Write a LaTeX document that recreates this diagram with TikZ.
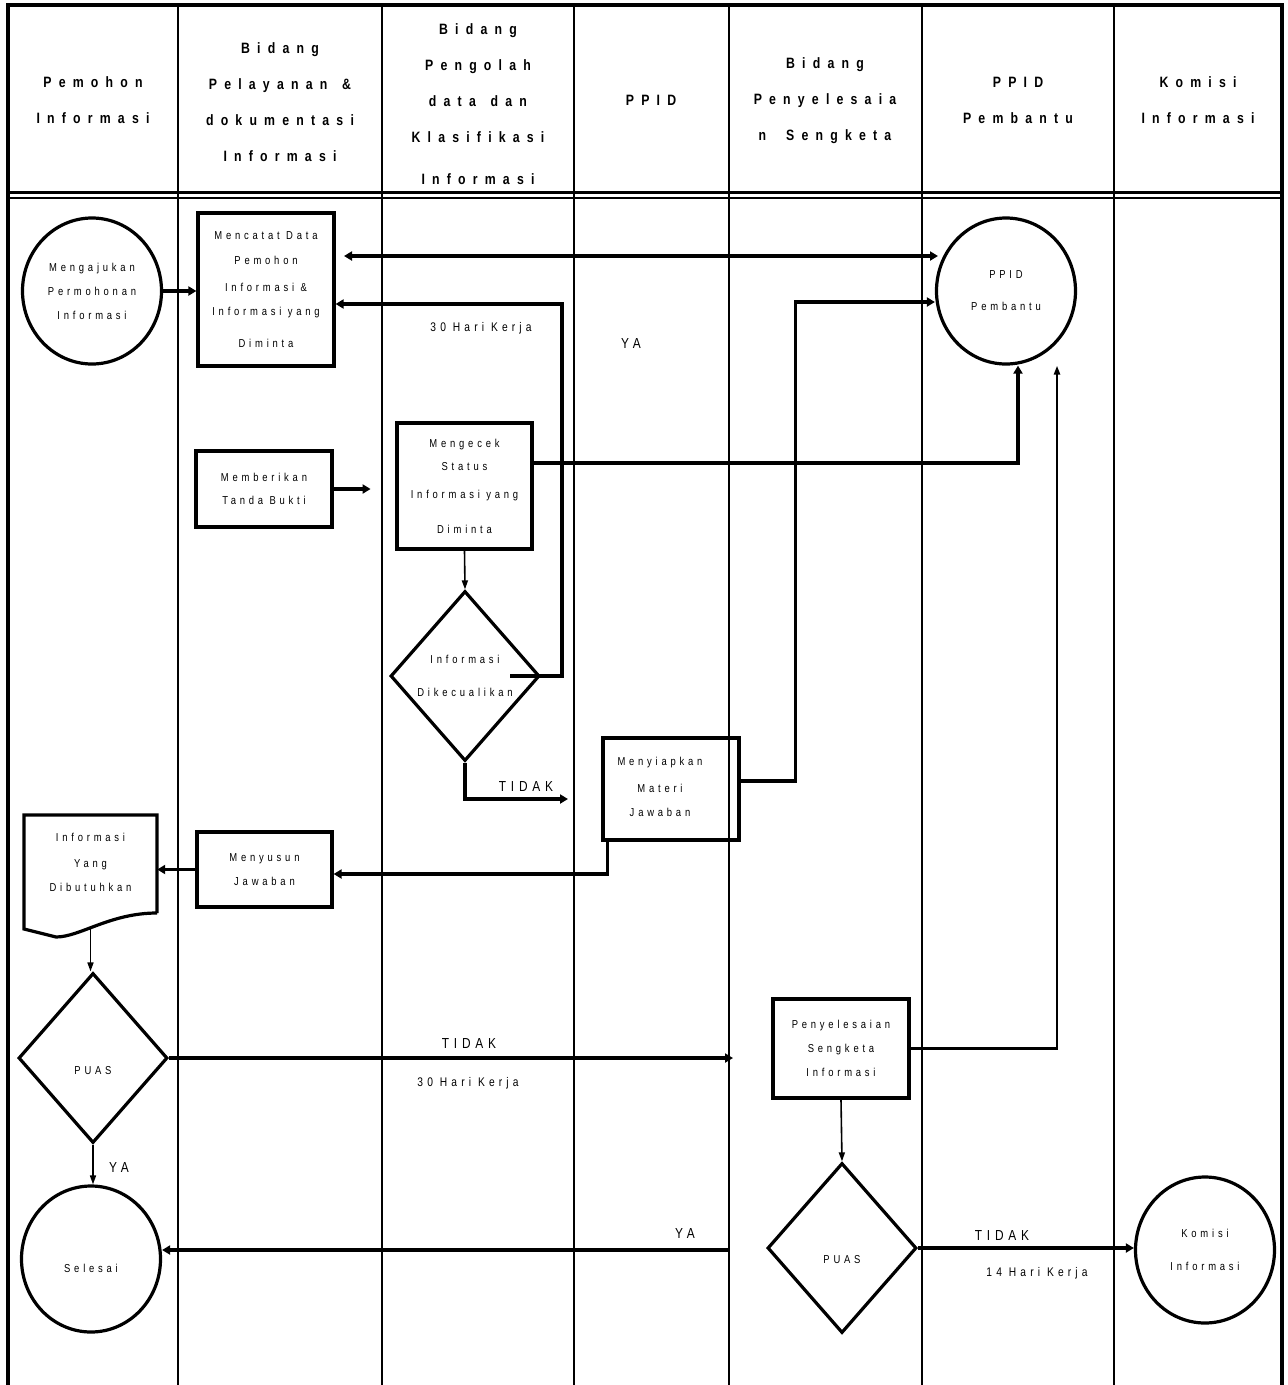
\documentclass[tikz,border=0pt]{standalone}
\usepackage{fontspec}
\setmainfont{Liberation Sans}
\newfontfamily\headfont{Liberation Sans Bold}[FakeStretch=0.82,LetterSpace=48,WordSpace=1.4]
\newfontfamily\bodyfont{Liberation Sans}[FakeStretch=0.82,LetterSpace=33]
\usetikzlibrary{shapes,arrows,positioning,calc,arrows.meta}

\begin{document}
\begin{tikzpicture}[x=1pt,y=-1pt,
    lane/.style={line width=2.2pt},
    headtxt/.style={align=center,inner sep=0pt,font=\headfont\fontsize{15pt}{36pt}\selectfont},
    flowtxt/.style={align=center,inner sep=0pt,font=\bodyfont\fontsize{11.5pt}{24pt}\selectfont},
    procbox/.style={flowtxt,draw,line width=3.2pt,minimum width=136pt},
    termnode/.style={flowtxt,ellipse,draw,line width=3.2pt,minimum width=139pt,minimum height=146pt},
    decnode/.style={flowtxt,diamond,draw,line width=3.2pt,minimum width=149pt,minimum height=170pt},
    flowlbl/.style={inner sep=0pt,font=\bodyfont\fontsize{12.5pt}{15pt}\selectfont},
    bigsign/.style={inner sep=0pt,font=\bodyfont\fontsize{14.5pt}{17pt}\selectfont},
    flowarr/.style={line width=3.2pt,-{Triangle[length=8pt,width=9pt]}},
    thinarr/.style={line width=1.6pt,-{Triangle[length=9pt,width=6pt]}},
    dblarr/.style={line width=3.2pt,{Triangle[length=8pt,width=9pt]}-{Triangle[length=8pt,width=9pt]}}]
    \useasboundingbox (0,0) rectangle (1288,1385);

    % Frame and lanes
    \foreach \lx in {178,382,574,729,922,1114}
        \draw[lane] (\lx,5) -- (\lx,1385);
    \draw[line width=3.5pt] (8,1385) -- (8,5) -- (1282,5) -- (1282,1385);
    \draw[line width=3pt] (8,192.5) -- (1282,192.5);
    \draw[line width=2pt] (8,198) -- (1282,198);

    % Lane titles
    \node[headtxt] (h1) at (93,100.5) {Pemohon\\Informasi};
    \node[headtxt] (h2) at (280,102) {Bidang\\Pelayanan \&\\dokumentasi\\Informasi};
    \node[headtxt] (h3) at (478,104) {Bidang\\Pengolah\\data dan\\Klasifikasi\\[6pt]Informasi};
    \node[headtxt] (h4) at (651,100) {PPID};
    \node[headtxt] (h5) at (825,101) {Bidang\\Penyelesaia\\n\hspace{20pt}Sengketa};
    \node[headtxt] (h6) at (1018,100.5) {PPID\\Pembantu};
    \node[headtxt] (h7) at (1198,100.5) {Komisi\\Informasi};

    % Steps
    \node[termnode] (ajukan) at (92,291) {Mengajukan\\Permohonan\\Informasi};
    \node[procbox,minimum height=153pt] (catat) at (266,289.5)
        {Mencatat Data\\[1pt]Pemohon\\[3pt]Informasi \&\\Informasi yang\\[8pt]Diminta};
    \node[termnode] (ppidb) at (1006,291) {PPID\\[8pt]Pembantu};
    \node[procbox,minimum height=76pt] (beri) at (264,489) {Memberikan\\[-1pt]Tanda Bukti};
    \node[procbox,minimum width=135pt,minimum height=126pt] (cek) at (464.5,486)
        {Mengecek\\[-1pt]Status\\[4pt]Informasi yang\\[11pt]Diminta};
    \node[decnode] (kecuali) at (465,676) {Informasi\\[9pt]Dikecualikan};
    \node[procbox,minimum height=102pt,
        label={[flowtxt,xshift=-11pt,yshift=2pt]center:{Menyiapkan\\[3pt]Materi\\Jawaban}}] (siap) at (671,789) {};
    \node[procbox,minimum width=135pt,minimum height=75pt] (susun) at (264.5,869.5) {Menyusun\\Jawaban};
    \node[minimum width=133pt,minimum height=114pt,inner sep=0pt,
        label={[flowtxt,yshift=10pt]center:{Informasi\\[2pt]Yang\\Dibutuhkan}}] (doc) at (90.5,872) {};
    \draw[line width=3.2pt] (157,913) -- (157,815) -- (24,815) -- (24,929) -- (56,937)
        .. controls (80,937) and (110,913) .. (157,913);
    \node[decnode,label={[flowtxt,yshift=-13pt]center:PUAS}] (puas1) at (93,1058) {};
    \node[termnode,label={[flowtxt,yshift=-9pt]center:Selesai}] (selesai) at (91,1259) {};
    \node[procbox,minimum height=99pt] (sengketa) at (841,1048.5) {Penyelesaian\\Sengketa\\Informasi};
    \node[decnode,label={[flowtxt,yshift=-12pt]center:PUAS}] (puas2) at (842,1248) {};
    \node[termnode] (komisi) at (1205,1250) {Komisi\\[9pt]Informasi};

    % Loose ends
    \coordinate (dkiri) at (344,256);
    \coordinate (dkanan) at (938,256);
    \coordinate (kx) at (510,676);
    \coordinate (tidakujung) at (568,799);
    \coordinate (puasujung) at (733,1058);
    \coordinate (yaawal) at (729,1250);

    % Connectors
    \draw[flowarr] (ajukan.east) -- (ajukan.east -| catat.west);
    \draw[dblarr] (dkiri) -- (dkanan);
    \draw[flowarr] (kx) -- ++(52,0) |- ([yshift=-14.5pt]catat.east);
    \draw[flowarr] (beri.east) -- ++(37,0);
    \draw[flowarr] ([yshift=23pt]cek.east) -| ([xshift=12pt]ppidb.south);
    \draw[thinarr] (cek.south) -- (kecuali.north);
    \draw[flowarr] (kecuali.south) |- (tidakujung);
    \draw[flowarr] ([yshift=8pt]siap.east) -- ++(55,0) |- ([yshift=-11pt]ppidb.west);
    \draw[flowarr] ([xshift=6pt]siap.south west) |- ([yshift=-4.5pt]susun.east);
    \draw[flowarr] (susun.west) -- (susun.west -| doc.east);
    \draw[thinarr] (doc.south) -- (doc.south |- puas1.north);
    \draw[flowarr] (puas1.east) -- (puasujung);
    \draw[thinarr] (puas1.south) -- (puas1.south |- selesai.north);
    \draw[flowarr] (yaawal) -- (yaawal -| selesai.east);
    \draw[line width=2.4pt,-{Triangle[length=9pt,width=6pt]}] (sengketa.east) -| ([xshift=51pt]ppidb.south);
    \draw[thinarr] (sengketa.south) -- (puas2.north);
    \draw[flowarr] (puas2.east) -- (puas2.east -| komisi.west);

    % Labels
    \node[flowlbl] (hari1) at (481,328) {30 Hari Kerja};
    \node[bigsign] (ya1) at (631,344) {YA};
    \node[bigsign] (tidak1) at (526,787) {TIDAK};
    \node[bigsign] (tidak2) at (469,1043) {TIDAK};
    \node[flowlbl] (hari2) at (468,1083) {30 Hari Kerja};
    \node[bigsign] (ya2) at (119,1167) {YA};
    \node[bigsign] (ya3) at (685,1233) {YA};
    \node[bigsign] (tidak3) at (1002,1235) {TIDAK};
    \node[flowlbl] (hari3) at (1037,1273) {14 Hari Kerja};
\end{tikzpicture}
\end{document}
